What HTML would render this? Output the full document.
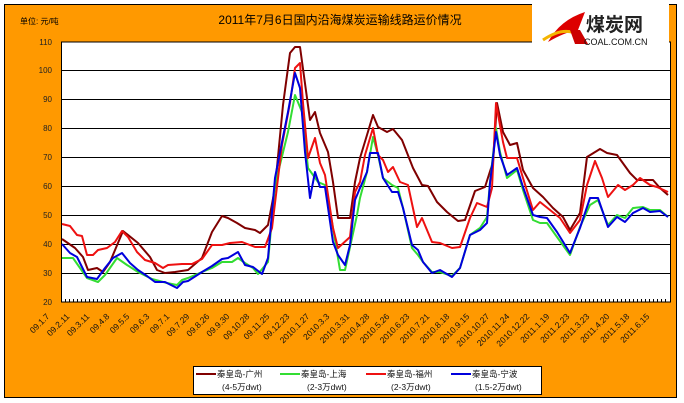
<!DOCTYPE html>
<html><head><meta charset="utf-8"><style>
html,body{margin:0;padding:0;background:#fff}
svg{display:block}
text{font-family:"Liberation Sans","Noto Sans CJK SC",sans-serif}
</style></head><body>
<svg width="684" height="403" viewBox="0 0 684 403" xmlns="http://www.w3.org/2000/svg">
<rect x="0" y="0" width="684" height="403" fill="#fff"/>
<rect x="4.5" y="4.5" width="672" height="393" fill="#FF9900" stroke="#000" stroke-width="1"/>
<text x="340" y="24" font-size="12" text-anchor="middle" fill="#000">2011年7月6日国内沿海煤炭运输线路运价情况</text>
<text x="20" y="24" font-size="8" fill="#000">单位: 元/吨</text>
<rect x="61.5" y="42" width="609" height="260" fill="#fff" stroke="#000"/>
<g stroke="#000" stroke-width="1">
<line x1="61" y1="70.5" x2="670" y2="70.5"/><line x1="61" y1="99.5" x2="670" y2="99.5"/>
<line x1="61" y1="128.5" x2="670" y2="128.5"/><line x1="61" y1="157.5" x2="670" y2="157.5"/>
<line x1="61" y1="186.5" x2="670" y2="186.5"/><line x1="61" y1="215.5" x2="670" y2="215.5"/>
<line x1="61" y1="244.5" x2="670" y2="244.5"/><line x1="61" y1="273.5" x2="670" y2="273.5"/>
</g>
<g font-size="8" fill="#222" text-anchor="end">
<text x="52" y="45">110</text><text x="52" y="73">100</text><text x="52" y="102">90</text><text x="52" y="131">80</text><text x="52" y="160">70</text><text x="52" y="189">60</text><text x="52" y="218">50</text><text x="52" y="247">40</text><text x="52" y="276">30</text><text x="52" y="305">20</text>
</g>
<path stroke="#000" stroke-width="1" d="M65.5 302v-3M69.5 302v-3M73.5 302v-3M77.5 302v-3M81.5 302v-3M85.5 302v-3M89.5 302v-3M93.5 302v-3M97.5 302v-3M101.5 302v-3M105.5 302v-3M109.5 302v-3M113.5 302v-3M117.5 302v-3M121.5 302v-3M125.5 302v-3M129.5 302v-3M133.5 302v-3M137.5 302v-3M141.5 302v-3M145.5 302v-3M149.5 302v-3M153.5 302v-3M157.5 302v-3M161.5 302v-3M165.5 302v-3M169.5 302v-3M173.5 302v-3M177.5 302v-3M181.5 302v-3M185.5 302v-3M189.5 302v-3M193.5 302v-3M197.5 302v-3M201.5 302v-3M205.5 302v-3M209.5 302v-3M213.5 302v-3M217.5 302v-3M221.5 302v-3M225.5 302v-3M229.5 302v-3M233.5 302v-3M237.5 302v-3M241.5 302v-3M245.5 302v-3M249.5 302v-3M253.5 302v-3M257.5 302v-3M261.5 302v-3M265.5 302v-3M269.5 302v-3M273.5 302v-3M277.5 302v-3M281.5 302v-3M285.5 302v-3M289.5 302v-3M293.5 302v-3M297.5 302v-3M301.5 302v-3M305.5 302v-3M309.5 302v-3M313.5 302v-3M317.5 302v-3M321.5 302v-3M325.5 302v-3M329.5 302v-3M333.5 302v-3M337.5 302v-3M341.5 302v-3M345.5 302v-3M349.5 302v-3M353.5 302v-3M357.5 302v-3M361.5 302v-3M365.5 302v-3M369.5 302v-3M373.5 302v-3M377.5 302v-3M381.5 302v-3M385.5 302v-3M389.5 302v-3M393.5 302v-3M397.5 302v-3M401.5 302v-3M405.5 302v-3M409.5 302v-3M413.5 302v-3M417.5 302v-3M421.5 302v-3M425.5 302v-3M429.5 302v-3M433.5 302v-3M437.5 302v-3M441.5 302v-3M445.5 302v-3M449.5 302v-3M453.5 302v-3M457.5 302v-3M461.5 302v-3M465.5 302v-3M469.5 302v-3M473.5 302v-3M477.5 302v-3M481.5 302v-3M485.5 302v-3M489.5 302v-3M493.5 302v-3M497.5 302v-3M501.5 302v-3M505.5 302v-3M509.5 302v-3M513.5 302v-3M517.5 302v-3M521.5 302v-3M525.5 302v-3M529.5 302v-3M533.5 302v-3M537.5 302v-3M541.5 302v-3M545.5 302v-3M549.5 302v-3M553.5 302v-3M557.5 302v-3M561.5 302v-3M565.5 302v-3M569.5 302v-3M573.5 302v-3M577.5 302v-3M581.5 302v-3M585.5 302v-3M589.5 302v-3M593.5 302v-3M597.5 302v-3M601.5 302v-3M605.5 302v-3M609.5 302v-3M613.5 302v-3M617.5 302v-3M621.5 302v-3M625.5 302v-3M629.5 302v-3M633.5 302v-3M637.5 302v-3M641.5 302v-3M645.5 302v-3M649.5 302v-3M653.5 302v-3M657.5 302v-3M661.5 302v-3M665.5 302v-3"/>
<g fill="none" stroke-width="2" stroke-linejoin="round">
<polyline stroke="#800000" points="62,239 75,248 83,257 88,270 97,268 103,272 110,262 123,231 138,243 150,257 157,270 165,273 175,272 188,270 202,258 212,232 222,216 228,218 237,223 245,228 255,230 260,233 268,225 275,188 283,105 290,53 295,47 300,47 307,98 310,120 315,112 320,133 328,152 333,182 338,218 350,218 355,182 360,158 367,135 373,115 378,127 387,132 393,129 402,140 413,168 422,185 428,186 437,202 447,212 458,221 465,220 475,191 485,187 493,162 497,103 503,132 510,145 517,143 523,170 533,188 543,197 553,208 563,217 570,230 580,213 587,157 600,149 607,153 617,155 630,173 637,180 653,180 660,188 668,195"/>
<polyline stroke="#33dd33" points="62,258 73,258 80,268 87,278 98,282 105,275 117,258 127,265 138,272 152,279 167,283 177,285 182,280 188,278 202,272 212,268 222,262 232,262 238,258 245,263 253,268 258,274 268,262 275,185 288,132 295,95 302,112 308,168 318,182 325,185 332,222 340,270 345,270 352,238 357,215 360,198 367,172 373,137 378,155 383,178 392,185 398,188 403,208 412,248 418,255 423,262 432,272 440,272 452,276 460,268 470,235 480,228 487,217 490,182 496,128 500,152 507,178 517,170 523,190 533,220 540,223 547,223 557,237 570,255 580,227 590,205 598,200 608,225 617,215 625,218 633,208 643,207 650,210 660,210 668,217"/>
<polyline stroke="#ee1111" points="62,224 70,226 77,235 82,236 87,255 93,255 98,250 107,248 115,242 122,231 128,237 137,252 145,260 155,263 163,268 168,265 182,264 192,264 202,259 212,245 222,245 230,243 242,242 255,247 265,247 272,228 282,145 290,103 295,68 300,63 303,103 308,158 315,138 320,163 325,175 333,228 338,248 350,237 355,192 360,182 365,155 373,128 378,155 383,160 388,172 393,167 400,182 408,185 417,227 422,218 432,242 440,243 452,248 460,247 470,218 477,203 487,207 492,188 496,103 503,142 507,158 517,158 523,178 533,210 540,202 550,210 560,218 570,233 580,220 587,185 595,161 602,178 608,197 618,185 625,190 633,185 640,178 650,185 657,187 668,192"/>
<polyline stroke="#0000dd" points="62,244 70,253 77,257 87,277 97,279 105,268 113,258 122,253 130,263 138,270 147,276 155,282 165,282 177,288 183,282 188,281 202,272 212,266 222,259 228,258 238,252 245,265 253,267 262,274 268,258 275,178 282,142 288,112 295,73 300,88 305,152 310,198 315,172 320,187 325,187 333,242 338,255 345,265 350,245 355,200 360,188 367,172 370,153 378,153 383,178 392,192 398,192 403,208 412,245 418,250 423,262 432,273 440,270 452,277 460,268 470,235 480,230 487,223 490,183 496,132 500,155 507,175 517,168 523,187 533,215 540,217 547,218 557,232 570,253 580,228 590,198 598,198 608,227 617,217 625,222 633,213 643,208 650,212 660,211 668,217"/>
</g>
<rect x="532" y="0" width="137" height="55" fill="#fff"/>
<path d="M548 42 Q560 20 585 12 L578 30 Q565 32 548 42Z" fill="#d00"/>
<path d="M543 40 Q565 25 580 36" stroke="#f4b400" stroke-width="3" fill="none"/>
<path d="M570 30 L575 44 L588 44 L580 30Z" fill="#c00"/>
<text x="586" y="31" font-size="19" font-weight="bold" fill="#222">煤炭网</text>
<text x="584" y="45" font-size="9" fill="#111">COAL.COM.CN</text>
<g font-size="8.5" fill="#111" text-anchor="end">
<text transform="translate(50,317) rotate(-45)">09.1.7</text>
<text transform="translate(70,317) rotate(-45)">09.2.11</text>
<text transform="translate(90,317) rotate(-45)">09.3.11</text>
<text transform="translate(110,317) rotate(-45)">09.4.8</text>
<text transform="translate(130,317) rotate(-45)">09.5.5</text>
<text transform="translate(150,317) rotate(-45)">09.6.3</text>
<text transform="translate(170,317) rotate(-45)">09.7.1</text>
<text transform="translate(190,317) rotate(-45)">09.7.29</text>
<text transform="translate(210,317) rotate(-45)">09.8.26</text>
<text transform="translate(230,317) rotate(-45)">09.9.30</text>
<text transform="translate(250,317) rotate(-45)">09.10.28</text>
<text transform="translate(270,317) rotate(-45)">09.11.25</text>
<text transform="translate(290,317) rotate(-45)">09.12.23</text>
<text transform="translate(310,317) rotate(-45)">2010.1.27</text>
<text transform="translate(330,317) rotate(-45)">2010.3.3</text>
<text transform="translate(350,317) rotate(-45)">2010.3.31</text>
<text transform="translate(370,317) rotate(-45)">2010.4.28</text>
<text transform="translate(390,317) rotate(-45)">2010.5.26</text>
<text transform="translate(410,317) rotate(-45)">2010.6.23</text>
<text transform="translate(430,317) rotate(-45)">2010.7.21</text>
<text transform="translate(450,317) rotate(-45)">2010.8.18</text>
<text transform="translate(470,317) rotate(-45)">2010.9.15</text>
<text transform="translate(490,317) rotate(-45)">2010.10.27</text>
<text transform="translate(510,317) rotate(-45)">2010.11.24</text>
<text transform="translate(530,317) rotate(-45)">2010.12.22</text>
<text transform="translate(550,317) rotate(-45)">2011.1.19</text>
<text transform="translate(570,317) rotate(-45)">2011.2.23</text>
<text transform="translate(590,317) rotate(-45)">2011.3.23</text>
<text transform="translate(610,317) rotate(-45)">2011.4.20</text>
<text transform="translate(630,317) rotate(-45)">2011.5.18</text>
<text transform="translate(650,317) rotate(-45)">2011.6.15</text>
</g>
<rect x="193.5" y="366.5" width="348" height="28" fill="#fff" stroke="#000"/>
<g stroke-width="2">
<line x1="196" y1="374" x2="216" y2="374" stroke="#800000"/>
<line x1="280" y1="374" x2="300" y2="374" stroke="#33dd33"/>
<line x1="366" y1="374" x2="386" y2="374" stroke="#ee1111"/>
<line x1="451" y1="374" x2="471" y2="374" stroke="#0000dd"/>
</g>
<g font-size="8.5" fill="#111">
<text x="217" y="377">秦皇岛-广州</text>
<text x="301" y="377">秦皇岛-上海</text>
<text x="387" y="377">秦皇岛-福州</text>
<text x="472" y="377">秦皇岛-宁波</text>
<text x="222" y="390">(4-5万dwt)</text>
<text x="307" y="390">(2-3万dwt)</text>
<text x="391" y="390">(2-3万dwt)</text>
<text x="475" y="390">(1.5-2万dwt)</text>
</g>
</svg>
</body></html>
